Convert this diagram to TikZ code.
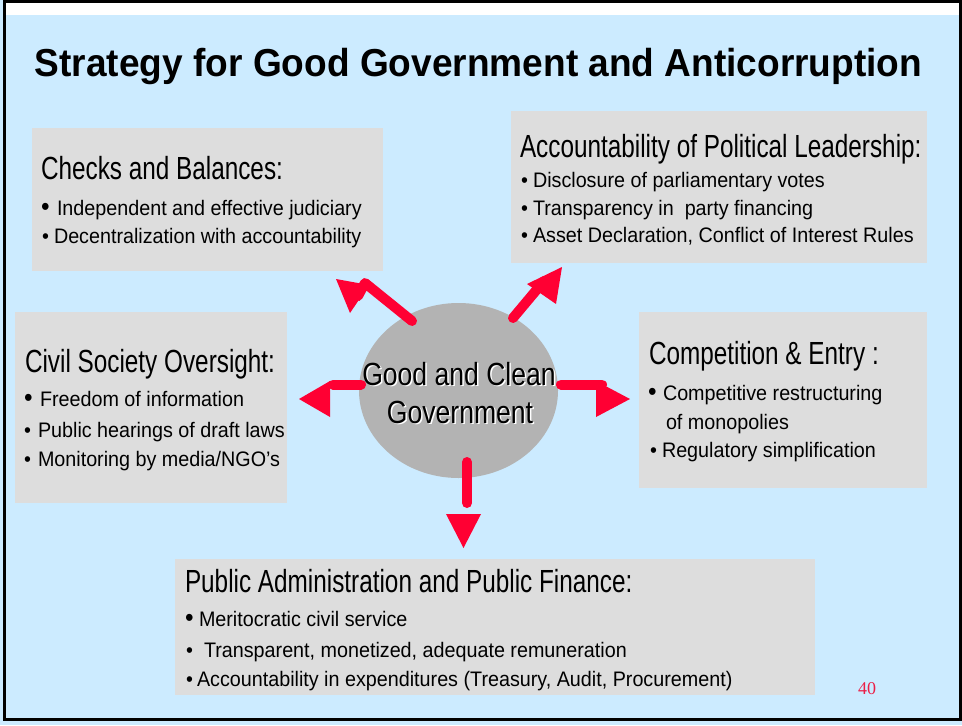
\documentclass[tikz,border=0pt]{standalone}
\usepackage{fontspec}
\usetikzlibrary{shapes.geometric}
\setmainfont{Liberation Sans}
\newfontfamily\titlefont[FakeStretch=0.95]{Liberation Sans}
\newfontfamily\headfont[FakeStretch=0.76]{Liberation Sans}
\newfontfamily\centfont[FakeStretch=0.83]{Liberation Sans}
\newfontfamily\bodyfont[FakeStretch=0.94]{Liberation Sans}
\newfontfamily\numfont{Liberation Serif}
\definecolor{bgblue}{RGB}{204,235,255}
\definecolor{boxgray}{RGB}{221,221,221}
\definecolor{ellgray}{RGB}{179,179,179}
\definecolor{arrred}{RGB}{255,0,51}
\definecolor{numred}{RGB}{235,30,70}
\newcommand\pnl[5]{\node[panel, anchor=north west, minimum width={(#4-#2)*0.75pt}, minimum height={(#5-#3)*0.75pt}] (#1) at (#2,#3) {};}
\newcommand\bline[6]{\node[#2] (#1-b) at (#3,#5) {\textbullet};\node[bodytxt] (#1) at (#4,#5) {#6};}
\begin{document}
\begin{tikzpicture}[x=0.75pt, y=-0.75pt,
  every node/.style={inner sep=0pt, outer sep=0pt},
  panel/.style={fill=boxgray, draw=none},
  headtxt/.style={anchor=base west, font=\headfont\fontsize{24pt}{28pt}\selectfont},
  bodytxt/.style={anchor=base west, font=\bodyfont\fontsize{15.75pt}{18pt}\selectfont},
  smallbul/.style={anchor=base west, font=\bodyfont\fontsize{15.75pt}{18pt}\selectfont},
  bigbul/.style={anchor=base west, font=\bodyfont\fontsize{19.5pt}{20pt}\selectfont},
  ctxt/.style={anchor=base, font=\centfont\fontsize{24pt}{28pt}\selectfont},
  stem/.style={draw=arrred, line width=7.5pt, line cap=round, line join=round},
  tiphead/.style={fill=arrred, draw=none}]
\useasboundingbox (0,0) rectangle (962,725);
\fill[bgblue] (0,0) rectangle (962,725);
\fill[white] (6,3) rectangle (958.5,15);
\draw[black, line width=2.25pt] (4.5,1.5) rectangle (960,719);

% title
\node[anchor=base, font=\titlefont\bfseries\fontsize{29.25pt}{32pt}\selectfont] (title) at (478.5,76) {Strategy for Good Government and Anticorruption};

% panels
\pnl{checks}{32}{128}{383}{271}
\pnl{acct}{511}{111}{927}{263}
\pnl{civil}{15}{312}{287}{503}
\pnl{comp}{639}{312}{927}{488}
\pnl{pub}{175}{559}{815}{695}

% centre
\node[ellipse, fill=ellgray, minimum width={199*0.75pt}, minimum height={175*0.75pt}] (core) at (458.5,390.5) {};

% arrows
\coordinate (ula) at (412,321); \coordinate (ulb) at (365,283); \coordinate (ulc) at (358,296);
\coordinate (ulh1) at (336,279); \coordinate (ulh2) at (350,313); \coordinate (ulh3) at (369,285);
\draw[stem] (ula) -- (ulb) -- (ulc);
\fill[tiphead] (ulh1) -- (ulh2) -- (ulh3) -- cycle;

\coordinate (ura) at (513,318); \coordinate (urb) at (544,281);
\coordinate (urh1) at (562,267); \coordinate (urh2) at (527,284); \coordinate (urh3) at (556,304);
\draw[stem] (ura) -- (urb);
\fill[tiphead] (urh1) -- (urh2) -- (urh3) -- cycle;

\coordinate (lfa) at (361,384.5); \coordinate (lfb) at (333,384.5);
\coordinate (lfh1) at (299,399); \coordinate (lfh2) at (330,381); \coordinate (lfh3) at (330,417);
\draw[stem] (lfa) -- (lfb);
\fill[tiphead] (lfh1) -- (lfh2) -- (lfh3) -- cycle;

\coordinate (rta) at (561,384.5); \coordinate (rtb) at (602,384.5);
\coordinate (rth1) at (630,399); \coordinate (rth2) at (596,381); \coordinate (rth3) at (596,417);
\draw[stem] (rta) -- (rtb);
\fill[tiphead] (rth1) -- (rth2) -- (rth3) -- cycle;

\coordinate (dna) at (467,462); \coordinate (dnb) at (467,503);
\coordinate (dnh1) at (463.5,548); \coordinate (dnh2) at (446,514); \coordinate (dnh3) at (481,514);
\draw[stem] (dna) -- (dnb);
\fill[tiphead] (dnh1) -- (dnh2) -- (dnh3) -- cycle;

% centre text with light shadow
\node[ctxt, text=white] (c1s) at (460.5,386.5) {Good and Clean};
\node[ctxt, text=white] (c2s) at (461.5,424.5) {Government};
\node[ctxt] (c1) at (459,385) {Good and Clean};
\node[ctxt] (c2) at (460,423) {Government};

% Checks and Balances
\node[headtxt] (checksh) at (41,179) {Checks and Balances:};
\bline{ch1}{bigbul}{41}{57}{215}{Independent and effective judiciary}
\bline{ch2}{smallbul}{42}{54}{243}{Decentralization with accountability}

% Accountability
\node[headtxt] (accth) at (520,157) {Accountability of Political Leadership:};
\bline{ac1}{smallbul}{521}{533}{187}{Disclosure of parliamentary votes}
\bline{ac2}{smallbul}{521}{533}{215}{Transparency in\ \ party financing}
\bline{ac3}{smallbul}{521}{533}{242}{Asset Declaration, Conflict of Interest Rules}

% Civil Society
\node[headtxt] (civilh) at (25,372) {Civil Society Oversight:};
\bline{cv1}{bigbul}{24}{40}{406}{Freedom of information}
\bline{cv2}{smallbul}{24}{38}{437}{Public hearings of draft laws}
\bline{cv3}{smallbul}{24}{38}{466}{Monitoring by media/NGO’s}

% Competition
\node[headtxt] (comph) at (649,364) {Competition \& Entry :};
\bline{cp1}{bigbul}{648}{663}{400}{Competitive restructuring}
\node[bodytxt] (cp1b) at (666,429) {of monopolies};
\bline{cp2}{smallbul}{650}{662}{457}{Regulatory simplification}

% Public administration
\node[headtxt] (pubh) at (185,592) {Public Administration and Public Finance:};
\bline{pb1}{bigbul}{185}{199}{626}{Meritocratic civil service}
\bline{pb2}{smallbul}{186}{204}{657}{Transparent, monetized, adequate remuneration}
\bline{pb3}{smallbul}{186}{197}{686}{Accountability in expenditures (Treasury, Audit, Procurement)}

% page number
\node[anchor=base west, font=\numfont\fontsize{13.5pt}{15pt}\selectfont, text=numred] (pg) at (858,694) {40};
\end{tikzpicture}
\end{document}
